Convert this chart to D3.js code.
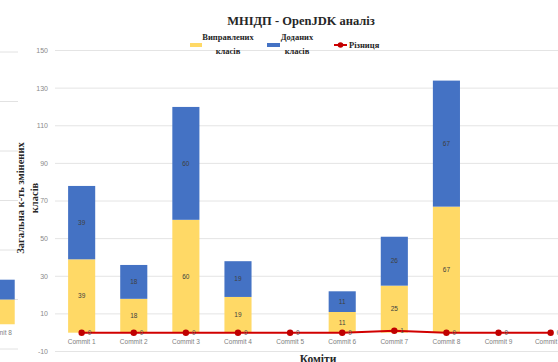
<!DOCTYPE html>
<html>
<head>
<meta charset="utf-8">
<script src="https://cdn.jsdelivr.net/npm/d3@7"></script>
<style>
  body { margin: 0; background: #fff; }
  svg { display: block; }
</style>
</head>
<body>
<svg id="chart" width="558" height="362"></svg>
<script>
// Commits and per-commit class counts
const commits = ["Commit 1", "Commit 2", "Commit 3", "Commit 4", "Commit 5",
                 "Commit 6", "Commit 7", "Commit 8", "Commit 9", "Commit 10"];
const fixedClasses = [39, 18, 60, 19, 0, 11, 25, 67, 0, 0];
const addedClasses = [39, 18, 60, 19, 0, 11, 26, 67, 0, 0];
const difference   = [0, 0, 0, 0, 0, 0, 1, 0, 0, 0];
const yTicks = [-10, 10, 30, 50, 70, 90, 110, 130, 150];

// Edge of the neighbouring chart on the same sheet
const sideCategories = ["Commit 8"];
const sideFixed = [10];
const sideAdded = [8];
const sideTicks = [-10, 10, 30, 50, 70, 90, 110];

const seriesNames = ["Виправлених класів", "Доданих класів", "Різниця"];
const colors = { fixed: "#ffd966", added: "#4472c4", diff: "#d10000", marker: "#c00000" };

const svg = d3.select("#chart");
const sans = "'Liberation Sans', Arial, sans-serif";
const serif = "'Liberation Serif', 'Times New Roman', serif";

// ---------- neighbouring chart fragment ----------
const y2 = d3.scaleLinear().domain([-10, 110]).range([349, 52]);
const x2 = d3.scaleBand().domain(sideCategories).range([-40, 32]).paddingInner(0.48).paddingOuter(0.24);
const side = svg.append("g");
side.selectAll("line.grid").data(sideTicks).join("line")
  .attr("x1", 0).attr("x2", 18)
  .attr("y1", d => y2(d)).attr("y2", d => y2(d))
  .attr("stroke", "#e2e2e2").attr("stroke-width", 1);
sideCategories.forEach((c, i) => {
  side.append("rect").attr("x", x2(c)).attr("width", x2.bandwidth())
    .attr("y", y2(sideFixed[i])).attr("height", y2(0) - y2(sideFixed[i])).attr("fill", colors.fixed);
  side.append("rect").attr("x", x2(c)).attr("width", x2.bandwidth())
    .attr("y", y2(sideFixed[i] + sideAdded[i])).attr("height", y2(sideFixed[i]) - y2(sideFixed[i] + sideAdded[i]))
    .attr("fill", colors.added);
  side.append("text").attr("x", x2(c) + x2.bandwidth() / 2 + 2).attr("y", y2(0) + 11)
    .attr("text-anchor", "middle").attr("font-family", sans).attr("font-size", 6.5)
    .attr("fill", "#808080").text(c);
});

// ---------- main chart ----------
const y = d3.scaleLinear().domain([-10, 150]).range([351.5, 50.5]);
const x = d3.scaleBand().domain(commits).range([55.6, 576.7]).paddingInner(0.48).paddingOuter(0.24);
const cx = d => x(d) + x.bandwidth() / 2;

// gridlines
svg.append("g").selectAll("line").data(yTicks).join("line")
  .attr("x1", 55).attr("x2", 558)
  .attr("y1", d => y(d)).attr("y2", d => y(d))
  .attr("stroke", "#e4e4e4").attr("stroke-width", 1);

// y tick labels
svg.append("g").selectAll("text").data(yTicks).join("text")
  .attr("x", 48).attr("y", d => y(d)).attr("dy", "0.35em")
  .attr("text-anchor", "end").attr("font-family", sans).attr("font-size", 7)
  .attr("fill", "#8a8a8a").text(d => d);

// stacked bars
const rows = commits.map((c, i) => ({ commit: c, fixed: fixedClasses[i], added: addedClasses[i] }));
const stack = d3.stack().keys(["fixed", "added"])(rows);
const bars = svg.append("g");
stack.forEach(layer => {
  bars.selectAll(null).data(layer).join("rect")
    .attr("x", d => x(d.data.commit)).attr("width", x.bandwidth())
    .attr("y", d => y(d[1])).attr("height", d => y(d[0]) - y(d[1]))
    .attr("fill", colors[layer.key]);
  bars.selectAll(null).data(layer.filter(d => d[1] - d[0] > 0)).join("text")
    .attr("x", d => cx(d.data.commit)).attr("y", d => y((d[0] + d[1]) / 2)).attr("dy", "0.35em")
    .attr("text-anchor", "middle").attr("font-family", sans).attr("font-size", 6.5)
    .attr("fill", "#404040").text(d => d[1] - d[0]);
});

// difference line
const diffLine = d3.line().x((d, i) => cx(commits[i])).y(d => y(d));
svg.append("path").datum(difference).attr("d", diffLine)
  .attr("fill", "none").attr("stroke", colors.diff).attr("stroke-width", 2);
svg.append("g").selectAll("circle").data(difference).join("circle")
  .attr("cx", (d, i) => cx(commits[i])).attr("cy", d => y(d)).attr("r", 3.2)
  .attr("fill", colors.marker);
svg.append("g").selectAll("text").data(difference).join("text")
  .attr("x", (d, i) => cx(commits[i]) + 6).attr("y", d => y(d)).attr("dy", "0.35em")
  .attr("font-family", sans).attr("font-size", 6.5).attr("fill", "#595959").text(d => d);

// category labels
svg.append("g").selectAll("text").data(commits).join("text")
  .attr("x", d => cx(d)).attr("y", y(0) + 11)
  .attr("text-anchor", "middle").attr("font-family", sans).attr("font-size", 6.5)
  .attr("fill", "#808080").text(d => d);

// title
svg.append("text").attr("x", 301).attr("y", 25).attr("text-anchor", "middle")
  .attr("font-family", serif).attr("font-weight", "bold").attr("font-size", 12.5)
  .attr("fill", "#262626").text("МНІДП - OpenJDK аналіз");

// axis titles
const yTitle = svg.append("text").attr("transform", "translate(24,198) rotate(-90)")
  .attr("text-anchor", "middle").attr("font-family", serif).attr("font-weight", "bold")
  .attr("font-size", 10.5).attr("fill", "#262626");
yTitle.append("tspan").attr("x", 0).attr("dy", 0).text("Загальна к-ть змінених");
yTitle.append("tspan").attr("x", 0).attr("dy", 13.5).text("класів");

svg.append("text").attr("x", 318).attr("y", 363).attr("text-anchor", "middle")
  .attr("font-family", serif).attr("font-weight", "bold").attr("font-size", 11.5)
  .attr("fill", "#262626").text("Коміти");

// legend
const legend = svg.append("g").attr("font-family", serif).attr("font-weight", "bold")
  .attr("font-size", 8.5).attr("fill", "#262626");
function twoLine(g, xPos, words) {
  const t = g.append("text").attr("x", xPos).attr("y", 40).attr("text-anchor", "middle");
  t.append("tspan").attr("x", xPos).attr("dy", 0).text(words[0]);
  t.append("tspan").attr("x", xPos).attr("dy", 14).text(words[1]);
}
legend.append("rect").attr("x", 190).attr("y", 43).attr("width", 12).attr("height", 4).attr("fill", colors.fixed);
twoLine(legend, 228, seriesNames[0].split(" "));
legend.append("rect").attr("x", 267).attr("y", 43).attr("width", 13).attr("height", 4).attr("fill", colors.added);
twoLine(legend, 297, seriesNames[1].split(" "));
legend.append("line").attr("x1", 334).attr("x2", 347).attr("y1", 45).attr("y2", 45)
  .attr("stroke", colors.diff).attr("stroke-width", 2);
legend.append("circle").attr("cx", 340.5).attr("cy", 45).attr("r", 2.8).attr("fill", colors.marker);
legend.append("text").attr("x", 349).attr("y", 48).text(seriesNames[2]);
</script>
</body>
</html>
